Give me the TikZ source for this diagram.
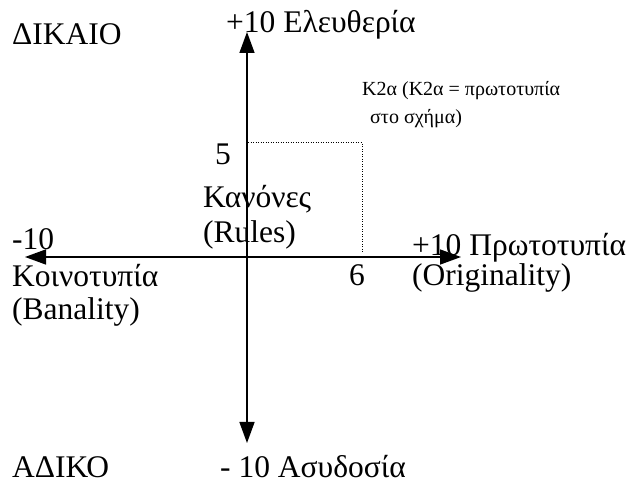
\documentclass[tikz,border=0pt]{standalone}
\usepackage{fontspec}
\setmainfont{Liberation Serif}
\usetikzlibrary{arrows.meta}
\tikzset{
  lbl/.style={anchor=base west, inner sep=0pt, font=\fontsize{31.5}{36}\selectfont},
  smalllbl/.style={anchor=base west, inner sep=0pt, font=\fontsize{20}{24}\selectfont},
  axis/.style={line width=1.5pt, -{Triangle[length=21pt,width=15pt]}},
  guide/.style={line width=1pt, dash pattern=on 1pt off 1.5pt}
}
\begin{document}
\begin{tikzpicture}[x=1pt,y=-1pt]
\useasboundingbox (0,0) rectangle (630,486);
\coordinate (O) at (247,257);
\coordinate (top) at (247,32);
\coordinate (bot) at (247,443);
\coordinate (left) at (25,257);
\coordinate (right) at (461,257);
\coordinate (g1) at (248,143);
\coordinate (g2) at (362,143);
\coordinate (g3) at (362,252);
\draw[axis] (O) -- (top);
\draw[axis] (O) -- (bot);
\draw[axis] (O) -- (left);
\draw[axis] (O) -- (right);
\draw[guide] (g1) -- (g2) -- (g3);
\node[lbl] (dikaio) at (12,45) {ΔΙΚΑΙΟ};
\node[lbl] (eleft) at (226,33) {+10 Ελευθερία};
\node[smalllbl] (k2a1) at (362,96) {Κ2α (Κ2α = πρωτοτυπία};
\node[smalllbl] (k2a2) at (370,124) {στο σχήμα)};
\node[lbl] (five) at (215,165) {5};
\node[lbl] (kan) at (203,208) {Κανόνες};
\node[lbl] (rules) at (203,243) {(Rules)};
\node[lbl] (m10) at (12,250) {-10};
\node[lbl] (koin) at (12,287) {Κοινοτυπία};
\node[lbl] (ban) at (12,320) {(Banality)};
\node[lbl] (six) at (349,286) {6};
\node[lbl] (prot) at (412,256) {+10 Πρωτοτυπία};
\node[lbl] (orig) at (412,286) {(Originality)};
\node[lbl] (adiko) at (12,478) {ΑΔΙΚΟ};
\node[lbl] (asyd) at (220,478) {- 10 Ασυδοσία};
\end{tikzpicture}
\end{document}
